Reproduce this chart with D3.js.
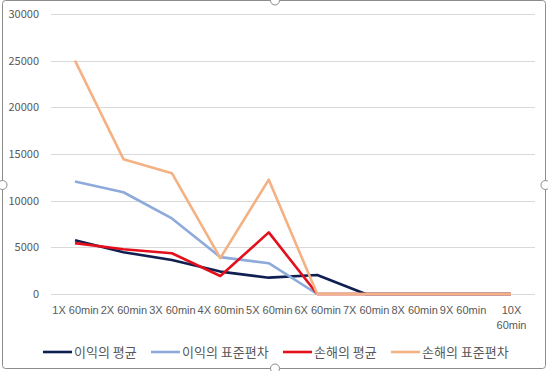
<!DOCTYPE html>
<html>
<head>
<meta charset="utf-8">
<script src="https://cdn.jsdelivr.net/npm/d3@7"></script>
<style>
  body { margin: 0; background: #fff; }
  svg { display: block; font-family: "Noto Sans CJK KR", "Noto Sans", sans-serif; }
</style>
</head>
<body>
<div id="canvas"></div>
<script>
"use strict";

/* chart size */
let svgWidth = 548;
let svgHeight = 371;

/* data */
const categories = ["1X 60min", "2X 60min", "3X 60min", "4X 60min", "5X 60min",
  "6X 60min", "7X 60min", "8X 60min", "9X 60min", "10X 60min"];
const yTicks = [0, 5000, 10000, 15000, 20000, 25000, 30000];

const seriesNames = ["이익의 평균", "이익의 표준편차", "손해의 평균", "손해의 표준편차"];
const profitMean = [5750, 4480, 3650, 2400, 1750, 2030, 0, 0, 0, 0];
const profitStd = [12050, 10900, 8100, 3950, 3300, 0, 0, 0, 0, 0];
const lossMean = [5450, 4800, 4370, 1930, 6600, 0, 0, 0, 0, 0];
const lossStd = [25000, 14450, 12950, 3850, 12250, 0, 0, 0, 0, 0];

const seriesValues = [profitMean, profitStd, lossMean, lossStd];
const colors = ["#0f1f52", "#8eaadb", "#e3101c", "#f4b183"];

const svg = d3.select("#canvas")
  .append("svg")
  .attr("width", svgWidth)
  .attr("height", svgHeight);

// scales
const xScale = d3.scalePoint()
  .domain(categories)
  .range([75, 511]);

const yScale = d3.scaleLinear()
  .domain([0, 30000])
  .range([294, 14]);

// gridlines
svg.append("g")
  .selectAll("line")
  .data(yTicks)
  .enter()
  .append("line")
  .attr("x1", 51)
  .attr("x2", 535)
  .attr("y1", d => Math.round(yScale(d)) + 0.5)
  .attr("y2", d => Math.round(yScale(d)) + 0.5)
  .attr("stroke", "#d9d9d9")
  .attr("stroke-width", 1);

// y axis labels
const yAxis = d3.axisLeft(yScale).tickValues(yTicks).tickSize(0).tickPadding(0)
  .tickFormat(d3.format("d"));
const yG = svg.append("g")
  .attr("transform", "translate(39,0)")
  .call(yAxis);
yG.select(".domain").remove();
yG.selectAll("text")
  .attr("fill", "#595959")
  .attr("font-size", "11px")
  .attr("font-family", "\"Noto Sans CJK KR\", sans-serif");

// x axis labels (last label wraps)
const xAxis = d3.axisBottom(xScale).tickSize(0).tickPadding(0).tickFormat("");
const xG = svg.append("g")
  .attr("transform", "translate(0,304)")
  .call(xAxis);
xG.select(".domain").remove();
xG.selectAll(".tick").each(function (d) {
  const t = d3.select(this).append("text")
    .attr("fill", "#595959")
    .attr("font-size", "11px")
    .attr("text-anchor", "middle")
    .attr("y", 10);
  if (d === "10X 60min") {
    t.append("tspan").attr("x", 0).text("10X");
    t.append("tspan").attr("x", 0).attr("dy", 15).text("60min");
  } else {
    t.text(d);
  }
});

// lines
const line = d3.line()
  .x((d, i) => xScale(categories[i]))
  .y(d => yScale(d));

seriesValues.forEach((vals, i) => {
  svg.append("path")
    .datum(vals)
    .attr("d", line)
    .attr("fill", "none")
    .attr("stroke", colors[i])
    .attr("stroke-width", 2.6)
    .attr("stroke-linejoin", "round");
});

// legend
const legendX = [43, 151, 283, 391];
seriesNames.forEach((name, i) => {
  const lg = svg.append("g").attr("transform", `translate(${legendX[i]},352)`);
  lg.append("line")
    .attr("x1", 0).attr("x2", 29)
    .attr("stroke", colors[i])
    .attr("stroke-width", 2.6);
  lg.append("text")
    .attr("x", 31)
    .attr("y", 5)
    .attr("font-size", "13px")
    .attr("fill", "#595959")
    .text(name);
});

// selection frame with handles
svg.append("rect")
  .attr("x", 2.5).attr("y", 0.5)
  .attr("width", 543).attr("height", 368)
  .attr("rx", 3)
  .attr("fill", "none")
  .attr("stroke", "#8c8c8c")
  .attr("stroke-width", 1);

const handles = [[2.5, 185], [545.5, 185], [275, 0.5], [275, 368.5]];
svg.selectAll("circle.handle")
  .data(handles)
  .enter()
  .append("circle")
  .classed("handle", true)
  .attr("cx", d => d[0])
  .attr("cy", d => d[1])
  .attr("r", 4.5)
  .attr("fill", "#fff")
  .attr("stroke", "#8c8c8c")
  .attr("stroke-width", 1);
</script>
</body>
</html>
